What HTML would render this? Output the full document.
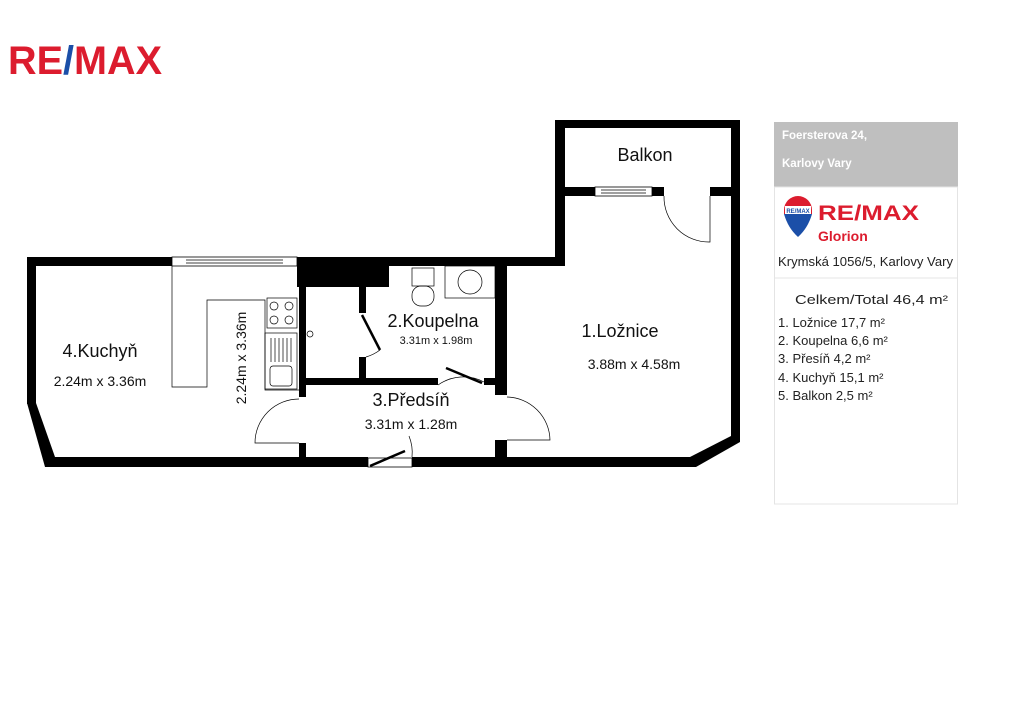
<!DOCTYPE html>
<html><head><meta charset="utf-8"><style>
html,body{margin:0;padding:0;background:#fff;width:1024px;height:724px;overflow:hidden}
svg{display:block}
text{font-family:"Liberation Sans",sans-serif}
</style></head><body>
<svg width="1024" height="724" viewBox="0 0 1024 724" xmlns="http://www.w3.org/2000/svg">
<text x="8" y="74" font-size="40" font-weight="bold" fill="#dc1c2e" textLength="154" lengthAdjust="spacingAndGlyphs">RE<tspan fill="#1b4fa8">/</tspan>MAX</text>

<g fill="#000">
  <rect x="555" y="120" width="185" height="8"/>
  <rect x="555" y="120" width="10" height="146"/>
  <rect x="731" y="120" width="9" height="76"/>
  <rect x="555" y="187" width="40" height="9"/>
  <rect x="652" y="187" width="12" height="9"/>
  <rect x="710" y="187" width="30" height="9"/>
  <rect x="27" y="257" width="145" height="9"/>
  <rect x="297" y="257" width="268" height="9"/>
  <rect x="297" y="257" width="92" height="30"/>
  <rect x="27" y="257" width="9" height="147"/>
  <polygon points="27,403 36,403 55,457 45,467"/>
  <rect x="45" y="457" width="323" height="10"/>
  <rect x="412" y="457" width="284" height="10"/>
  <rect x="731" y="187" width="9" height="251"/>
  <polygon points="731,436 740,436 740,442 696,467 690,457"/>
  <rect x="299" y="257" width="7" height="140"/>
  <rect x="299" y="443" width="7" height="20"/>
  <rect x="359" y="287" width="7" height="26"/>
  <rect x="359" y="357" width="7" height="25"/>
  <rect x="299" y="378" width="139" height="7"/>
  <rect x="484" y="378" width="23" height="7"/>
  <rect x="495" y="257" width="12" height="138"/>
  <rect x="495" y="440" width="12" height="22"/>
</g>
<g fill="#fff" stroke="#000" stroke-width="0.8">
  <rect x="172" y="257" width="125" height="9"/>
  <line x1="186" y1="260" x2="283" y2="260"/><line x1="186" y1="263" x2="283" y2="263"/>
  <rect x="595" y="187" width="57" height="9"/>
  <line x1="601" y1="190" x2="646" y2="190"/><line x1="601" y1="193" x2="646" y2="193"/>
  <rect x="368" y="458" width="44" height="9"/>
</g>
<g fill="none" stroke="#000" stroke-width="0.7">
  <polyline points="172,266 172,387 207,387 207,300 265,300 265,390 299,390"/>
  <rect x="267" y="298" width="30" height="30"/>
  <circle cx="274" cy="306" r="4"/><circle cx="289" cy="306" r="4"/>
  <circle cx="274" cy="320" r="4"/><circle cx="289" cy="320" r="4"/>
  <rect x="265" y="333" width="32" height="56"/>
  <line x1="271" y1="338" x2="271" y2="362"/><line x1="275" y1="338" x2="275" y2="362"/><line x1="279" y1="338" x2="279" y2="362"/><line x1="283" y1="338" x2="283" y2="362"/><line x1="287" y1="338" x2="287" y2="362"/><line x1="291" y1="338" x2="291" y2="362"/>
  <rect x="270" y="366" width="22" height="20" rx="3"/>
  <circle cx="310" cy="334" r="3"/>
  <rect x="412" y="268" width="22" height="18"/>
  <rect x="412" y="286" width="22" height="20" rx="9"/>
  <rect x="445" y="266" width="50" height="32"/>
  <circle cx="470" cy="282" r="12"/>
  <path d="M299,399 A44,44 0 0 0 255,443 L299,443"/>
  <path d="M507,397 A44,44 0 0 1 550,440 L507,440"/>
  <path d="M664,196 A45,45 0 0 0 710,242 L710,196"/>
  <path d="M366,357 A44,44 0 0 0 380,350"/>
  <path d="M438,385 A44,44 0 0 1 484,382"/>
  <path d="M412,457 A44,44 0 0 0 409,436"/>
</g>
<g stroke="#000" stroke-width="2.5">
  <line x1="362" y1="315" x2="380" y2="350"/>
  <line x1="446" y1="368" x2="482" y2="383"/>
  <line x1="370" y1="466" x2="405" y2="451"/>
</g>
<g fill="#111" text-anchor="middle">
  <text x="645" y="161" font-size="18">Balkon</text>
  <text x="620" y="337" font-size="18">1.Ložnice</text>
  <text x="634" y="369" font-size="14">3.88m x 4.58m</text>
  <text x="433" y="327" font-size="18">2.Koupelna</text>
  <text x="436" y="344" font-size="11">3.31m x 1.98m</text>
  <text x="411" y="406" font-size="18">3.Předsíň</text>
  <text x="411" y="429" font-size="14">3.31m x 1.28m</text>
  <text x="100" y="357" font-size="18">4.Kuchyň</text>
  <text x="100" y="386" font-size="14">2.24m x 3.36m</text>
  <text x="0" y="0" font-size="14" transform="translate(246,358) rotate(-90)">2.24m x 3.36m</text>
</g>

<rect x="774" y="122" width="184" height="65" fill="#bfbfbf"/>
<text x="782" y="139" font-size="11.5" font-weight="bold" fill="#fff">Foersterova 24,</text>
<text x="782" y="167" font-size="11.5" font-weight="bold" fill="#fff">Karlovy Vary</text>
<rect x="774.5" y="187" width="183" height="317" fill="none" stroke="#e4e4e4" stroke-width="1"/>
<line x1="774" y1="278" x2="958" y2="278" stroke="#e4e4e4"/>
<path d="M784,210 A14,14 0 0 1 812,210 L812,214 L784,214 Z" fill="#dc1c2e"/>
<path d="M784,214 L812,214 Q808,228 798,237 Q788,228 784,214 Z" fill="#1b4fa8"/>
<rect x="785" y="206" width="26" height="8" fill="#fff"/>
<text x="798" y="213" font-size="6" font-weight="bold" fill="#1b4fa8" text-anchor="middle">RE/MAX</text>
<text x="818" y="220" font-size="21" font-weight="bold" fill="#dc1c2e" textLength="101" lengthAdjust="spacingAndGlyphs">RE/MAX</text>
<text x="818" y="241" font-size="14" font-weight="bold" fill="#dc1c2e">Glorion</text>
<text x="778" y="266" font-size="13" fill="#222" textLength="175" lengthAdjust="spacingAndGlyphs">Krymská 1056/5, Karlovy Vary</text>
<g fill="#222" font-size="13">
<text x="795" y="304" textLength="153" lengthAdjust="spacingAndGlyphs">Celkem/Total  46,4 m²</text>
<text x="778" y="327">1.  Ložnice 17,7 m²</text>
<text x="778" y="345">2.  Koupelna 6,6 m²</text>
<text x="778" y="363">3.  Přesíň 4,2 m²</text>
<text x="778" y="382">4.  Kuchyň 15,1 m²</text>
<text x="778" y="400">5.  Balkon 2,5 m²</text>
</g>
</svg>
</body></html>
